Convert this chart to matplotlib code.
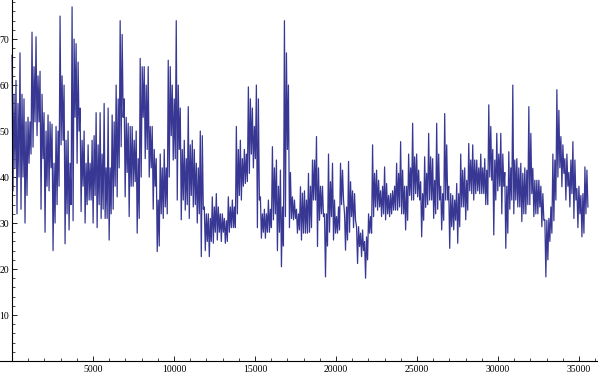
import numpy as np
import matplotlib.pyplot as plt
from matplotlib.ticker import MultipleLocator

# last sample index of the series
X_END = 35550

# the trace read window by window (about 250 samples each):
# outer peak / trough, then the edges of the dense core of the band
band_hi = [
    66.5, 61, 67, 57, 53, 71.5, 70.5, 63, 54, 53.5, 51.5, 51, 75, 60, 50, 77, 69, 55, 50, 47, 48, 54,
    54, 56, 55, 53.5, 60, 74, 57, 51.7, 51, 50, 65.8, 64, 64, 51, 44, 45, 46, 65.4, 60, 74, 55, 48, 55.3, 48, 43,
    50, 33.5, 32, 35.7, 36.4, 32, 31, 35.7, 35, 51, 48, 46, 59.6, 55, 60, 35.7, 33, 35, 46.6, 43.7, 41.5, 74, 60, 35.7, 33,
    37.9, 37, 40.8, 43.7, 48.8, 38, 32, 45, 43, 31.4, 43, 32, 43.4, 37, 29.2, 27.8, 26, 32, 47, 41.5, 37, 42.2, 36, 37, 43,
    47.7, 38, 45, 51.7, 45, 39, 44.4, 49.5, 44, 51.7, 38, 53.8, 38, 36, 38.6, 45, 42, 47.3, 47, 43.7, 45, 44, 55.7, 46, 49.5,
    49.5, 41, 45.5, 60, 44, 43, 42, 55.3, 41.9, 39.3, 38, 30.7, 31, 45, 59, 48.8, 44, 41, 47.7, 37.5, 36, 42.2,
]
band_lo = [
    37, 32, 33, 30, 43, 46.5, 49, 33, 28, 37, 24, 34, 47, 25.5, 28.5, 30.5, 43, 32.5, 30, 35, 30, 29,
    31, 31, 26.3, 33, 35.7, 46.6, 35.7, 31.4, 38, 27.8, 40, 44, 40, 33, 23.8, 32, 33.5, 40, 43.7, 35, 30.7, 32.8, 31, 33.5, 30,
    22.7, 24, 22.7, 25.6, 26.3, 26, 25.6, 28, 29, 32, 35, 38.6, 40.8, 42, 29, 26.7, 26.7, 28, 30.7, 24, 20.5, 31.4, 29, 30.7, 27.8,
    26.3, 27.8, 28, 35, 24.9, 32, 18.3, 28, 26.3, 27.8, 34, 24.1, 28, 29, 21.2, 22.7, 18, 27.8, 31.4, 32.8, 31.4, 30.7, 31.4, 32.8, 32.8,
    32, 28.5, 36, 35, 35.7, 27, 33.4, 35, 31, 33, 28.5, 35, 24.5, 28.5, 25.6, 33.5, 30.7, 37, 35, 37, 36.4, 34, 40, 27.4, 37,
    32, 24.5, 33, 32, 33.5, 30.3, 32, 34, 31.4, 32, 29.2, 18.3, 26, 30.5, 40, 37.9, 35, 33.5, 31, 29, 27, 32,
]
core_hi = [
    58, 56, 58, 52, 52, 64, 62, 58, 50, 52, 43, 50, 62, 48, 43, 70, 65, 48, 43, 43, 49, 47,
    45, 42, 42, 52, 57, 71, 53, 51, 48, 44, 64, 60, 51, 46, 35, 42, 42, 64, 57, 60, 46, 44, 47, 46, 42,
    49, 32, 31, 33.5, 33.5, 32, 30.5, 33.5, 33.5, 46, 44, 45, 57, 51, 57, 32, 32, 33, 42, 38, 33.5, 67, 41, 35, 32,
    36.5, 35, 38, 43.7, 42, 38, 32, 39, 35, 33.5, 41.5, 33.5, 39, 36.4, 29.2, 28.5, 27, 31.4, 40.8, 39.3, 38, 38.6, 36.4, 38, 40.8,
    41.5, 38, 42, 44.4, 41.5, 36.4, 40.8, 44.4, 39.3, 45, 36.4, 47, 36.4, 35, 36.4, 41.5, 39.3, 43.7, 43.7, 42, 42, 41.5, 51, 43.7, 45,
    45, 38, 42, 43.7, 42, 40.8, 41.5, 49.5, 39.3, 39.3, 36.4, 30.6, 33.5, 43.7, 54.5, 47, 45, 43.7, 43.7, 38, 36.4, 41.5,
]
core_lo = [
    42, 40, 40, 36, 45, 52, 52, 44, 38, 42, 30, 38, 48, 32, 34, 53, 50, 38, 34, 35, 36, 34,
    33, 31, 32, 38, 42, 53, 41, 38, 39, 31, 53, 46, 42, 38, 25, 31, 32, 49, 44, 46, 35, 34, 36, 34, 32,
    33, 26, 26, 28, 28, 28, 26, 29, 29, 36, 38, 39, 45, 44, 35, 28, 28, 29, 32, 28, 25, 46, 31, 31, 28.5,
    27.8, 27.8, 29, 35, 30.6, 31.4, 25, 31.4, 27.8, 28.5, 35, 26.3, 31.4, 30.6, 24.9, 24, 22, 27.8, 33.5, 33.5, 32, 32, 32, 32.8, 33.5,
    32, 30.6, 35, 36.4, 35, 30.6, 34, 35, 32, 35, 30.6, 35, 29.2, 30.6, 29.2, 33.5, 32.8, 36.4, 36.4, 36.4, 36.4, 34, 39.3, 35, 38,
    38, 27.8, 35, 35, 33.5, 32, 34, 36.4, 32, 33.5, 30.6, 22, 27.8, 35, 42, 40.8, 38, 36.4, 35, 32, 27.8, 33.5,
]

values = np.column_stack([band_hi, band_lo, core_hi, core_lo]).ravel()
x = np.linspace(0, X_END, values.size)

plt.rcParams["font.family"] = "Liberation Serif"
plt.rcParams["font.size"] = 7

fig = plt.figure(figsize=(6, 3.76), dpi=100)
ax = fig.add_axes([0, 15 / 376, 597 / 600, 361 / 376])
ax.plot(x, values, color="#383894", lw=0.9)

ax.set_xlim(-740, 36110)
ax.set_ylim(0, 78.5)

for side in ("top", "right"):
    ax.spines[side].set_visible(False)
ax.spines["left"].set_position(("data", 0))
ax.spines["bottom"].set_position(("data", 0))
for side in ("left", "bottom"):
    ax.spines[side].set_linewidth(0.8)
    ax.spines[side].set_color("black")

ax.xaxis.set_minor_locator(MultipleLocator(1000))
ax.yaxis.set_minor_locator(MultipleLocator(2))
ax.set_xticks([5000, 10000, 15000, 20000, 25000, 30000, 35000])
ax.set_yticks([10, 20, 30, 40, 50, 60, 70])
ax.tick_params(which="major", direction="in", length=3.5, width=0.6, pad=2)
ax.tick_params(axis="x", which="major", pad=3)
ax.tick_params(which="minor", direction="in", length=2, width=0.5)

fig.savefig("out.png", dpi=100)
